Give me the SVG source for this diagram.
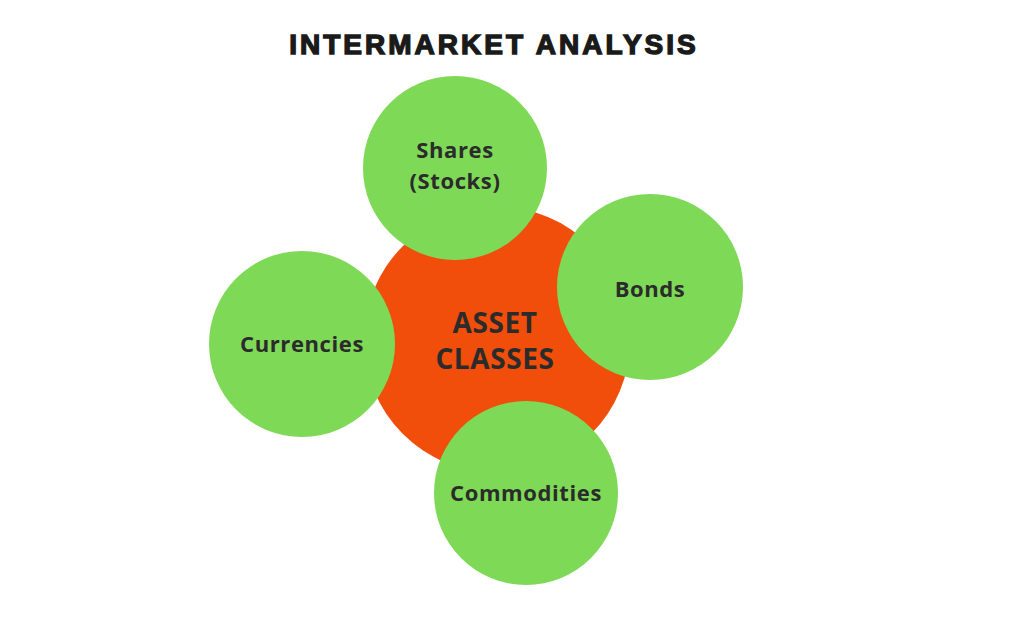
<svg xmlns="http://www.w3.org/2000/svg" width="1024" height="619" viewBox="0 0 1024 619">
<style>
.g{fill:#7ed957}
.t{font-family:"Open Sans","Liberation Sans",sans-serif;font-weight:bold;fill:#2b2b2b;text-anchor:middle;letter-spacing:0.6px}
</style>
<rect width="1024" height="619" fill="#fff"/>
<text x="494" y="54" font-family="'Liberation Sans',Arial,sans-serif" font-weight="900" font-size="28" letter-spacing="3" text-anchor="middle" fill="#1a1a1a" stroke="#1a1a1a" stroke-width="1.4">INTERMARKET ANALYSIS</text>
<g id="connectors"/>
<g id="asset"><circle cx="497" cy="340" r="133" fill="#f04e0a"/>
<text class="t" x="495" y="333" font-size="28">ASSET</text><text class="t" x="495" y="369" font-size="28">CLASSES</text></g>
<g id="shares"><circle class="g" cx="455" cy="168" r="92"/>
<text class="t" x="455" y="158" font-size="22">Shares</text><text class="t" x="455" y="189" font-size="22">(Stocks)</text></g>
<g id="bonds"><circle class="g" cx="650" cy="287" r="93"/>
<text class="t" x="650" y="297" font-size="22">Bonds</text></g>
<g id="currencies"><circle class="g" cx="302" cy="344" r="93"/>
<text class="t" x="302" y="352" font-size="22">Currencies</text></g>
<g id="commodities"><circle class="g" cx="526" cy="493" r="92"/>
<text class="t" x="526" y="501" font-size="22">Commodities</text></g>
</svg>
